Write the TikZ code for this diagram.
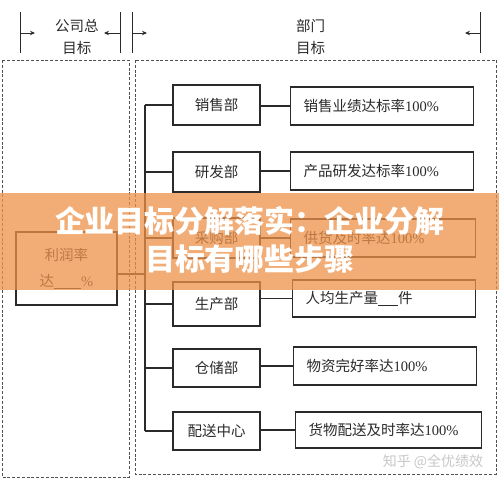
\documentclass[tikz,border=0pt]{standalone}
\usepackage{fontspec}
\setmainfont{Liberation Serif}
\newfontfamily\cjk{Noto Sans CJK SC}
\usetikzlibrary{arrows.meta}
\definecolor{ink}{HTML}{2A2A2A}
\definecolor{dashc}{HTML}{505050}
\definecolor{banner}{RGB}{238,146,74}
\begin{document}
\begin{tikzpicture}[x=1pt,y=-1pt,
  txt/.style={font=\cjk\fontsize{14.5}{22}\selectfont, text=ink},
  dbox/.style={draw=ink, line width=1.2pt, minimum width=87pt, minimum height=40pt, inner sep=0pt, txt},
  tbox/.style={draw=ink, line width=1.2pt, minimum height=38pt, inner ysep=0pt, inner xsep=13pt, text width=157pt, align=left, anchor=west, txt},
  lbox/.style={draw=ink, line width=1.2pt, minimum width=101pt, minimum height=73pt, inner sep=0pt, align=center, font=\cjk\fontsize{14.5}{26}\selectfont, text=ink},
  conn/.style={draw=ink, line width=1.2pt},
  tick/.style={draw=ink, line width=1pt},
  harrow/.style={draw=ink, line width=1pt, -{Stealth[length=5pt,width=4.5pt]}},
  dbound/.style={draw=dashc, line width=1pt, dash pattern=on 3pt off 1.8pt},
  bannertext/.style={font=\cjk\bfseries\fontsize{30}{34}\selectfont, text=white},
  wm/.style={font=\cjk\fontsize{14}{16}\selectfont, text=black!22}
]
\useasboundingbox (0,0) rectangle (499,482);

% header ticks and arrows
\coordinate (a1t) at (20,12); \coordinate (a1b) at (20,53);
\coordinate (a2t) at (120,12); \coordinate (a2b) at (120,53);
\coordinate (a3t) at (132,12); \coordinate (a3b) at (132,53);
\coordinate (a4t) at (480,12); \coordinate (a4b) at (480,53);
\draw[tick] (a1t) -- (a1b);
\draw[tick] (a2t) -- (a2b);
\draw[tick] (a3t) -- (a3b);
\draw[tick] (a4t) -- (a4b);
\coordinate (h1s) at (20,33); \coordinate (h1e) at (35,33);
\coordinate (h2s) at (120,33); \coordinate (h2e) at (104,33);
\coordinate (h3s) at (132,33); \coordinate (h3e) at (147,33);
\coordinate (h4s) at (480,33); \coordinate (h4e) at (465,33);
\draw[harrow] (h1s) -- (h1e);
\draw[harrow] (h2s) -- (h2e);
\draw[harrow] (h3s) -- (h3e);
\draw[harrow] (h4s) -- (h4e);
\node[txt, align=center] (hc) at (77,37) {公司总\\目标};
\node[txt, align=left, anchor=west, inner sep=0pt] (hd) at (296,37) {部门\\目标};

% dashed boundaries
\draw[dbound] (2,60) rectangle (129,477);
\draw[dbound] (135,60) rectangle (496,474);

% department boxes
\node[dbox] (d1) at (216.5,105) {销售部};
\node[dbox] (d2) at (216.5,172) {研发部};
\node[dbox] (d3) at (216.5,238) {采购部};
\node[dbox, minimum height=44pt] (d4) at (216.5,304) {生产部};
\node[dbox, minimum height=38pt] (d5) at (216.5,368) {仓储部};
\node[dbox, minimum height=38pt] (d6) at (216.5,431) {配送中心};

% target boxes
\node[tbox] (t1) at (290,106) {销售业绩达标率{\rmfamily 100\%}};
\node[tbox] (t2) at (290,171) {产品研发达标率{\rmfamily 100\%}};
\node[tbox, text width=159pt] (t3) at (290,238) {供货及时率达{\rmfamily 100\%}};
\node[tbox, minimum height=37pt] (t4) at (292,298.5) {人均生产量\underline{\hspace{20pt}}件};
\node[tbox, minimum height=38pt] (t5) at (293,366) {物资完好率达{\rmfamily 100\%}};
\node[tbox, minimum height=36pt, text width=160pt] (t6) at (295,430) {货物配送及时率达{\rmfamily 100\%}};

% left box
\node[lbox] (lb) at (66.5,268.5) {利润率\\达\underline{\hspace{27pt}}{\rmfamily\%}};

% trunk
\coordinate (j1) at (145,105);
\coordinate (j6) at (145,431);
\coordinate (jl) at (145,274);
\draw[conn] (j1) -- (j6);
\foreach \i in {1,...,6} {
  \draw[conn] (d\i.west) -- (d\i.west -| j1);
  \draw[conn] (t\i.west) -- (t\i.west -| d\i.east);
}
\draw[conn] (jl) -- (jl -| lb.east);

% banner overlay
\fill[banner, opacity=0.75] (0,193) rectangle (499,290);
\node[bannertext] (b1) at (250,221) {企业目标分解落实：企业分解};
\node[bannertext] (b2) at (250,259) {目标有哪些步骤};

% watermark
\node[wm] (w) at (433,462) {知乎 @全优绩效};
\end{tikzpicture}
\end{document}
